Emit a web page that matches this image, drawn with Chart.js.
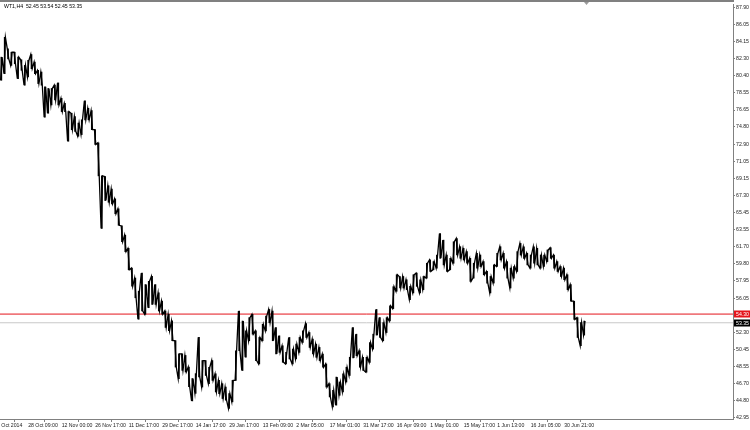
<!DOCTYPE html>
<html><head><meta charset="utf-8">
<script src="https://cdn.jsdelivr.net/npm/chart.js@4/dist/chart.umd.min.js"></script>
<style>html,body{margin:0;padding:0;background:#fff}#wrap{width:750px;height:430px;position:relative}</style>
</head><body><div id="wrap"><canvas id="c"></canvas></div>
<script>
const symbol = "WT1,H4";
const lastBar = [52.45, 53.54, 52.45, 53.35];
const highs = [
82.44,84.61,83.34,82.98,82.98,82.44,82.15,81.54,82.08,82.73,
81.90,81.00,80.81,79.20,79.01,79.01,79.37,79.62,77.93,77.39,
76.48,76.30,75.94,75.22,75.58,77.67,76.84,76.59,74.50,73.05,
69.44,69.37,68.36,68.00,66.92,65.83,63.96,62.95,61.50,59.33,
58.25,56.81,58.79,57.53,57.89,58.43,57.53,56.63,55.73,54.64,
54.28,53.56,51.39,49.95,49.95,49.77,48.50,47.24,47.78,51.75,
49.21,49.21,48.48,49.21,47.76,47.04,46.68,46.31,45.59,47.04,
50.29,54.63,53.54,52.46,53.91,54.27,52.46,51.74,53.18,54.09,
54.81,54.63,52.82,51.92,50.83,50.11,51.74,50.47,51.01,51.74,
52.46,53.26,52.28,51.56,51.01,50.65,49.93,48.84,46.68,45.95,
47.40,46.86,47.76,48.48,49.57,52.82,52.10,50.29,49.57,49.57,
51.19,52.10,54.81,53.91,53.36,53.91,55.20,57.30,58.61,58.42,
58.42,58.06,57.34,58.61,58.79,58.06,58.42,59.87,60.23,60.05,
60.77,63.12,62.40,60.77,60.41,62.22,62.58,61.68,61.50,61.14,
60.41,59.87,60.96,60.77,60.05,58.97,58.42,59.69,60.96,61.68,
60.96,60.05,59.33,59.51,61.14,62.04,61.68,60.96,60.77,61.68,
61.50,60.77,60.77,61.32,61.57,60.77,60.05,59.51,59.33,58.61,
57.52,55.71,53.91,53.36,53.54];
const lows = [
79.91,80.63,82.26,81.54,81.72,80.09,81.00,79.37,80.27,81.18,
80.63,79.55,79.37,75.87,76.30,77.21,77.75,77.21,76.48,76.48,
73.23,74.50,74.32,73.78,73.96,75.58,75.58,74.50,72.87,69.44,
63.67,66.74,66.55,66.37,65.29,64.03,62.22,61.14,59.16,57.35,
56.09,53.74,54.64,54.28,55.00,55.36,55.36,54.64,54.28,52.84,
52.48,51.39,48.50,47.24,48.14,47.96,46.34,44.79,45.62,47.42,
46.31,47.58,46.68,47.04,45.77,45.59,45.05,44.87,43.96,44.69,
47.04,50.29,48.12,49.57,51.38,52.10,49.21,48.84,51.38,52.46,
53.36,51.38,49.93,50.11,49.02,48.84,49.39,48.84,49.39,50.11,
51.19,51.74,50.65,49.93,49.57,49.21,48.48,46.31,45.23,44.14,
44.33,45.41,45.77,46.86,47.58,49.50,49.75,48.48,48.12,47.94,
49.02,50.47,52.00,51.74,51.38,52.28,53.54,54.90,56.80,57.16,
57.16,56.98,55.89,56.62,57.34,56.62,56.98,58.24,58.97,59.15,
59.33,60.41,59.69,58.97,59.15,59.87,60.77,60.41,60.23,59.87,
57.88,58.24,59.33,59.51,58.61,57.70,56.62,57.70,59.51,60.23,
59.33,58.24,57.16,58.24,58.97,60.77,60.41,59.69,59.33,59.87,
59.69,59.33,59.51,60.05,60.41,59.33,58.97,58.42,58.06,56.98,
55.71,53.72,51.74,50.83,52.00];
const xLabels = ["Oct 2014","28 Oct 09:00","12 Nov 00:00","26 Nov 17:00","11 Dec 17:00","29 Dec 17:00","14 Jan 17:00","29 Jan 17:00","13 Feb 09:00","2 Mar 05:00","17 Mar 01:00","31 Mar 17:00","16 Apr 09:00","1 May 01:00","15 May 17:00","1 Jun 13:00","16 Jun 05:00","30 Jun 21:00"];
const xLabelBars = [0,8,18,28,38,48,58,68,78,88,98,108,118,128,138,148,158,168];
const yTicks = [87.90,86.05,84.15,82.30,80.40,78.55,76.65,74.80,72.90,71.05,69.15,67.30,65.45,63.55,61.70,59.80,57.95,56.05,52.30,50.45,48.55,46.70,44.80,42.95];
const levelLine = 54.30;
const lastPrice = 53.35;
const yMin = 42.81, yMax = 88.25;
const xMin = -0.4, xMax = 218.4;

const FONT = '"Liberation Sans", Arial, sans-serif';
// each bar's range is traced low->high or high->low depending on where the next bar goes
const trace = [];
highs.forEach((h, i) => {
  const l = lows[i];
  const up = i + 1 < highs.length ? (highs[i + 1] + lows[i + 1]) > (h + l) : true;
  if (up) { trace.push({x: i - 0.22, y: l}, {x: i + 0.22, y: h}); }
  else { trace.push({x: i - 0.22, y: h}, {x: i + 0.22, y: l}); }
});
const wicks = highs.map((h, i) => ({x: i, y: [lows[i], h]}));

const decor = {
  id: 'decor',
  afterDraw(chart) {
    const {ctx, chartArea: a, scales: {y}} = chart;
    ctx.save();
    ctx.fillStyle = '#808080';
    ctx.fillRect(0, 0, a.right + 1, 2);
    ctx.fillStyle = '#9a9a9a';
    ctx.beginPath(); ctx.moveTo(584, 2); ctx.lineTo(589, 2); ctx.lineTo(586.5, 5); ctx.closePath(); ctx.fill();
    ctx.font = '5.2px ' + FONT;
    ctx.textBaseline = 'middle'; ctx.textAlign = 'left';
    ctx.fillStyle = '#000';
    ctx.fillText(symbol + '  ' + lastBar.map(v => v.toFixed(2)).join(' '), 4, 7);
    const box = (v, col) => {
      const py = Math.round(y.getPixelForValue(v));
      ctx.fillStyle = col;
      ctx.fillRect(a.right + 1, py - 3.5, 750 - a.right, 7);
      ctx.fillStyle = '#fff';
      ctx.fillText(v.toFixed(2), a.right + 3, py + 0.3);
    };
    box(levelLine, '#e4141b');
    box(lastPrice, '#000');
    ctx.restore();
  }
};

new Chart(document.getElementById('c'), {
  type: 'line',
  data: {
    datasets: [
      {type: 'line', data: trace, borderColor: '#000', borderWidth: 1.3, pointRadius: 0,
       tension: 0, order: 0},
      {type: 'bar', data: wicks, backgroundColor: '#000', borderWidth: 0,
       barThickness: 1, order: 1},
      {type: 'line', data: [{x: xMin, y: levelLine}, {x: xMax, y: levelLine}],
       borderColor: '#e4141b', borderWidth: 1, pointRadius: 0, order: 2},
      {type: 'line', data: [{x: xMin, y: lastPrice}, {x: xMax, y: lastPrice}],
       borderColor: '#c8c8c8', borderWidth: 1, pointRadius: 0, order: 3}
    ]
  },
  options: {
    responsive: true, maintainAspectRatio: false, animation: false,
    layout: {padding: 0},
    plugins: {legend: {display: false}, tooltip: {enabled: false}, title: {display: false}},
    scales: {
      x: {
        type: 'linear', min: xMin, max: xMax, offset: false,
        afterBuildTicks: s => { s.ticks = xLabelBars.map(v => ({value: v})); },
        afterFit: s => { s.height = 11; },
        ticks: {autoSkip: false, maxRotation: 0, minRotation: 0, align: 'start', padding: 0,
          color: '#222', font: {family: FONT, size: 5.2},
          callback: v => { const k = xLabelBars.indexOf(v); return k >= 0 ? xLabels[k] : ''; }},
        grid: {drawOnChartArea: false, drawTicks: true, tickLength: 3, color: '#808080'},
        border: {display: true, color: '#808080', width: 1}
      },
      y: {
        type: 'linear', position: 'right', min: yMin, max: yMax,
        afterBuildTicks: s => { s.ticks = yTicks.map(v => ({value: v})); },
        afterFit: s => { s.width = 17; },
        ticks: {padding: 1, color: '#222', font: {family: FONT, size: 5.2},
          callback: v => Number(v).toFixed(2)},
        grid: {drawOnChartArea: false, drawTicks: true, tickLength: 2, color: '#808080'},
        border: {display: true, color: '#808080', width: 1}
      }
    }
  },
  plugins: [decor]
});
</script></body></html>
